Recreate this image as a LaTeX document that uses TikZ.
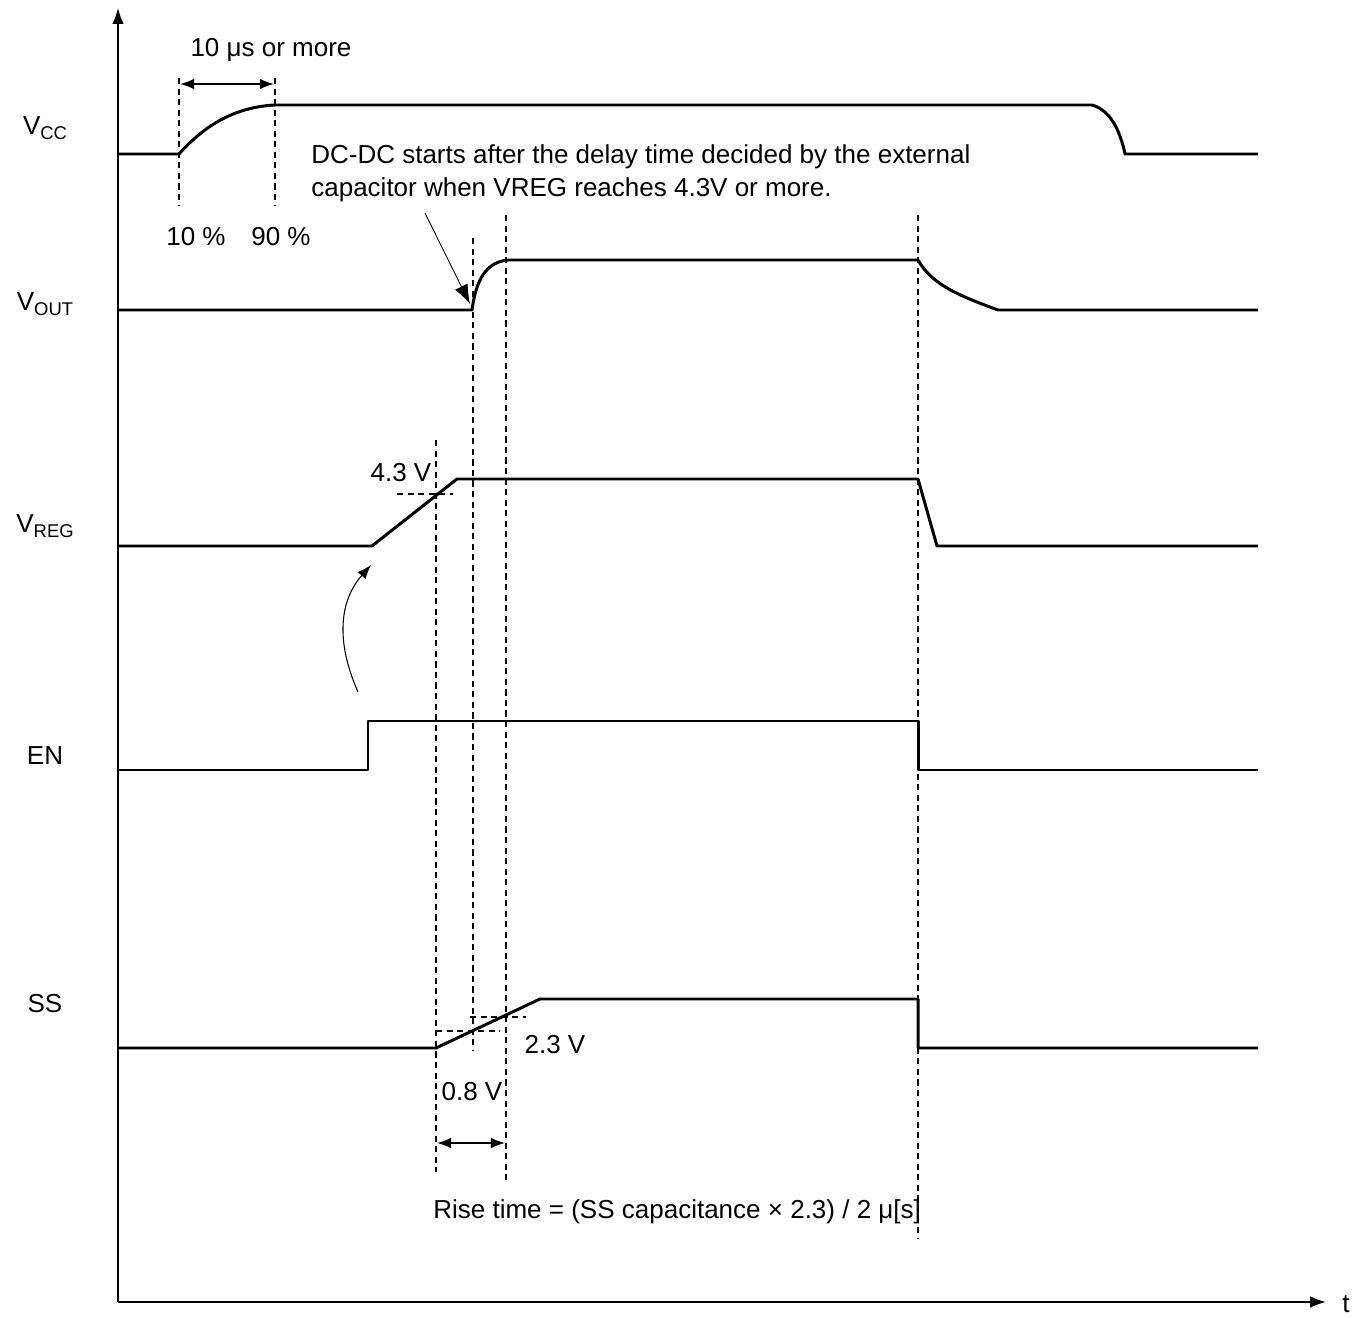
\documentclass[tikz,border=0pt]{standalone}
\usepackage{fontspec}
\setmainfont{Liberation Sans}
\usetikzlibrary{arrows.meta}
\newcommand{\vsub}[1]{V\raisebox{-0.4ex}{\fontsize{10.5}{12}\selectfont #1}}
\tikzset{
	sig/.style={line width=1.7pt, line join=round},
	guide/.style={line width=0.6pt, dash pattern=on 3.5pt off 2.5pt},
	axis/.style={line width=0.9pt, -{Latex[length=9pt,width=6.5pt]}},
	dim/.style={line width=0.9pt, {Latex[length=8pt,width=6pt]}-{Latex[length=8pt,width=6pt]}},
	lbl/.style={font=\fontsize{14.8}{17}\selectfont, inner sep=0pt}
}
\begin{document}
\begin{tikzpicture}[x=0.02cm, y=-0.02cm]
		\useasboundingbox (0,0) rectangle (1367,1318);
		
		%Axes
		\coordinate (O) at (118,1302);
		\coordinate (ytop) at (118,8);
		\coordinate (xend) at (1326,1302);
		\draw[axis] (O) -- (ytop);
		\draw[axis] (O) -- (xend);
		\node[lbl] (t) at (1346,1304) {t};
		
		%Signal names
		\node[lbl] (vcc) at (45,128) {\vsub{CC}};
		\node[lbl] (vout) at (45,304) {\vsub{OUT}};
		\node[lbl] (vreg) at (45,526) {\vsub{REG}};
		\node[lbl] (en) at (45,756) {EN};
		\node[lbl] (ss) at (45,1004) {SS};
		
		%V_CC
		\draw[sig] (118,154) -- (179,154) .. controls (205,125) and (235,107) .. (275,105) -- (1092,105)
			.. controls (1110,110) and (1120,130) .. (1125,154) -- (1258,154);
		\draw[guide] (179,78) -- (179,205);
		\draw[guide] (275,78) -- (275,205);
		\draw[dim] (180,84) -- (274,84);
		\node[lbl] (tmin) at (271,50) {10 μs or more};
		\node[lbl] (p10) at (196,237) {10 \%};
		\node[lbl] (p90) at (281,237) {90 \%};
		
		%V_OUT
		\coordinate (vouton) at (470,304);
		\draw[sig] (118,310) -- (472,310) .. controls (476,280) and (486,262) .. (508,260) -- (918,260)
			.. controls (932,285) and (960,296) .. (998,310) -- (1258,310);
		\node[lbl, anchor=west, align=left, font=\fontsize{14.8}{18.7}\selectfont] (note) at (311,173)
			{DC-DC starts after the delay time decided by the external\\capacitor when VREG reaches 4.3V or more.};
		\draw[line width=0.5pt, -{Latex[length=11pt,width=8pt]}] (425,213) -- (vouton);
		
		%V_REG
		\draw[sig] (118,546) -- (372,546) -- (457,479) -- (918,479) -- (937,546) -- (1258,546);
		\draw[guide] (397,494) -- (453,494);
		\node[lbl] (v43) at (401,473) {4.3 V};
		
		%EN
		\coordinate (enup) at (358,692);
		\coordinate (regstart) at (371,565);
		\draw[sig] (118,770) -- (368,770) -- (368,721) -- (918,721) -- (918,770) -- (1258,770);
		\draw[line width=0.6pt, -{Latex[length=8pt,width=6pt]}] (enup) .. controls (335,640) and (340,600) .. (regstart);
		
		%SS
		\draw[sig] (118,1048) -- (436,1048) -- (540,999) -- (918,999) -- (918,1048) -- (1258,1048);
		\draw[guide] (436,1031) -- (500,1031);
		\draw[guide] (470,1017) -- (526,1017);
		\node[lbl] (v23) at (555,1045) {2.3 V};
		\node[lbl] (v08) at (472,1092) {0.8 V};
		\draw[dim] (437,1143) -- (505,1143);
		\node[lbl, anchor=west] (rise) at (433,1212) {Rise time = (SS capacitance × 2.3) / 2 μ[s]};
		
		%Timing guides
		\draw[guide] (436,440) -- (436,1172);
		\draw[guide] (473,238) -- (473,1050);
		\draw[guide] (506,215) -- (506,1180);
		\draw[guide] (918,215) -- (918,1238);
		
	\end{tikzpicture}
\end{document}
